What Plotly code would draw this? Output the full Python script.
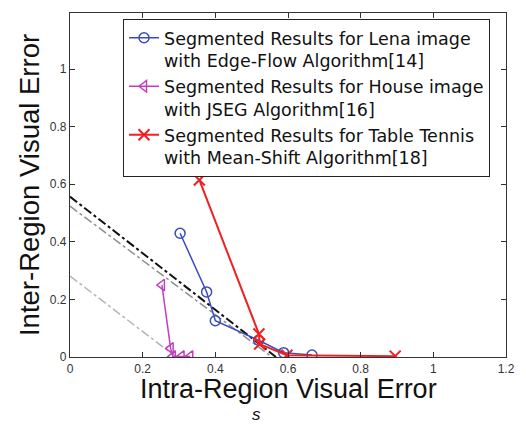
import plotly.graph_objects as go

# Data
lena_x = [0.303, 0.376, 0.400, 0.519, 0.588, 0.666]
lena_y = [0.430, 0.226, 0.126, 0.058, 0.015, 0.007]

house_x = [0.253, 0.277, 0.283, 0.307, 0.331]
house_y = [0.250, 0.030, 0.002, 0.002, 0.002]

tennis_x = [0.356, 0.520, 0.522, 0.597, 0.895]
tennis_y = [0.615, 0.080, 0.045, 0.006, 0.003]

ref_black_x = [0.0, 0.567]
ref_black_y = [0.557, 0.0]
ref_gray_x = [0.0, 0.556]
ref_gray_y = [0.524, 0.0]
ref_light_x = [0.0, 0.292]
ref_light_y = [0.281, 0.0]

x_ticks = [0, 0.2, 0.4, 0.6, 0.8, 1, 1.2]
x_tick_labels = ["0", "0.2", "0.4", "0.6", "0.8", "1", "1.2"]
y_ticks = [0, 0.2, 0.4, 0.6, 0.8, 1]
y_tick_labels = ["0", "0.2", "0.4", "0.6", "0.8", "1"]

names = [
    "Segmented Results for Lena image<br>with Edge-Flow Algorithm[14]",
    "Segmented Results for House image<br>with JSEG Algorithm[16]",
    "Segmented Results for Table Tennis<br>with Mean-Shift Algorithm[18]",
]

fig = go.Figure()

fig.add_trace(go.Scatter(x=ref_light_x, y=ref_light_y, mode="lines",
                         line=dict(color="#b4b4b4", width=1.5, dash="dashdot"),
                         showlegend=False, hoverinfo="skip"))
fig.add_trace(go.Scatter(x=ref_gray_x, y=ref_gray_y, mode="lines",
                         line=dict(color="#909090", width=1.5, dash="dashdot"),
                         showlegend=False, hoverinfo="skip"))
fig.add_trace(go.Scatter(x=ref_black_x, y=ref_black_y, mode="lines",
                         line=dict(color="#111111", width=2, dash="dashdot"),
                         showlegend=False, hoverinfo="skip"))

fig.add_trace(go.Scatter(x=lena_x, y=lena_y, mode="lines+markers", name=names[0],
                         line=dict(color="#3a4cc0", width=1.5),
                         marker=dict(symbol="circle-open", size=10,
                                     line=dict(width=1.5, color="#3a4cc0"))))
fig.add_trace(go.Scatter(x=house_x, y=house_y, mode="lines+markers", name=names[1],
                         line=dict(color="#c040c0", width=1.5),
                         marker=dict(symbol="triangle-left-open", size=10,
                                     line=dict(width=1.5, color="#c040c0"))))
fig.add_trace(go.Scatter(x=tennis_x, y=tennis_y, mode="lines+markers", name=names[2],
                         line=dict(color="#f02020", width=2),
                         marker=dict(symbol="x-thin-open", size=11,
                                     line=dict(width=2, color="#f02020"))))

axis_common = dict(
    showgrid=False, zeroline=False, showline=True, linecolor="#333333",
    linewidth=1.2, mirror="ticks", ticks="inside", ticklen=5,
    tickcolor="#333333", tickfont=dict(family="Liberation Sans, Arial", size=12,
                                       color="#333333"),
)

fig.update_xaxes(range=[0, 1.2], tickvals=x_ticks, ticktext=x_tick_labels, **axis_common)
fig.update_yaxes(range=[0, 1.195], tickvals=y_ticks, ticktext=y_tick_labels, **axis_common)

fig.update_layout(
    width=526, height=425,
    margin=dict(l=70, r=20, t=13, b=68),
    paper_bgcolor="white", plot_bgcolor="white",
    font=dict(family="Liberation Sans, Arial", color="#111111"),
    legend=dict(x=0.1216, y=0.983, xanchor="left", yanchor="top",
                bgcolor="white", bordercolor="#222222", borderwidth=1,
                font=dict(family="DejaVu Sans, Liberation Sans, Arial", size=17.5,
                          color="#111111"),
                valign="top", itemwidth=30, tracegroupgap=0),
    annotations=[
        dict(text="Inter-Region Visual Error", xref="paper", yref="paper",
             x=-0.094, y=0.5, xanchor="center", yanchor="middle",
             textangle=-90, showarrow=False, font=dict(size=27.5, color="#111111")),
        dict(text="Intra-Region Visual Error", xref="paper", yref="paper",
             x=0.5, y=-0.093, xanchor="center", yanchor="middle",
             showarrow=False, font=dict(size=27, color="#111111")),
        dict(text="<i>s</i>", xref="paper", yref="paper",
             x=0.427, y=-0.2, xanchor="center", yanchor="bottom",
             showarrow=False, font=dict(size=17, color="#111111")),
    ],
)

fig.write_html("out.html", config={"displayModeBar": False},
               post_script="document.body.style.margin='0px';")
